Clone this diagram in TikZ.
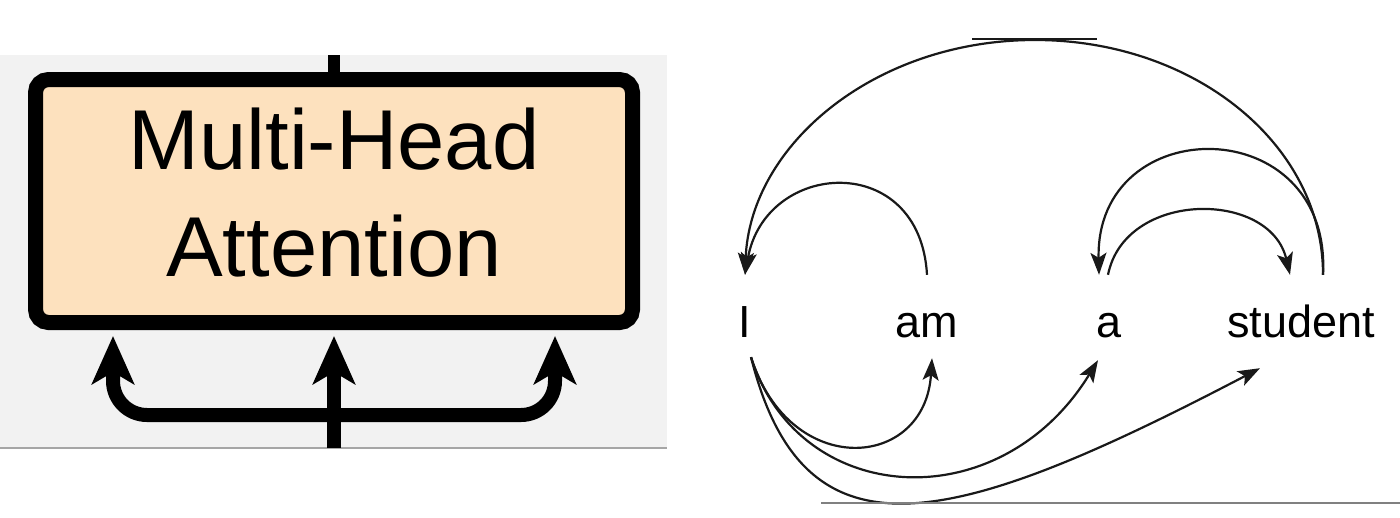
\documentclass[tikz,border=0pt]{standalone}
\usepackage{fontspec}
\setmainfont{Liberation Sans}
\usetikzlibrary{arrows.meta}
\definecolor{peach}{RGB}{253,225,190}
\definecolor{panelgray}{RGB}{242,242,242}
\definecolor{ink}{RGB}{25,25,25}
\begin{document}
\begin{tikzpicture}[x=1pt,y=-1pt,
  mhabox/.style={draw=black, line width=15pt, fill=peach, rounded corners=13pt,
    minimum width=597pt, minimum height=243pt, inner sep=0pt},
  mhatext/.style={font=\fontsize{85}{107}\selectfont, align=center, inner sep=0pt},
  thickflow/.style={line width=14pt, draw=black},
  thickarrow/.style={thickflow, -{Stealth[length=48pt,width=42pt,inset=12pt]}},
  word/.style={font=\fontsize{45}{54}\selectfont, anchor=base, inner xsep=0pt,
    inner ysep=30pt, text height=32pt, text depth=0pt},
  attn/.style={draw=ink, line width=2.2pt, -{Stealth[length=22pt,width=16pt,inset=5pt]}},
  rule/.style={draw=gray, line width=1.5pt}
]
\useasboundingbox (0,0) rectangle (1400,517);

% ---------- left panel ----------
\fill[panelgray] (0,55) rectangle (667,448);
\draw[draw=gray!70, line width=1.5pt] (0,448) -- (667,448);

\node[mhabox] (mha) at (334,201) {};
\node[mhatext] (mhatxt) at (334,193) {Multi-Head\\Attention};

\coordinate (topend) at (334,55);
\coordinate (stembot) at (334,448);
\coordinate (split) at (334,415);

\draw[thickflow, line width=12pt] (mha.north) -- (topend);
\draw[thickarrow] (stembot) -- ([yshift=-6pt]mha.south);
\draw[thickarrow, rounded corners=34pt] (split) -| ([xshift=-221pt,yshift=-6pt]mha.south);
\draw[thickarrow, rounded corners=34pt] (split) -| ([xshift=221pt,yshift=-6pt]mha.south);

% ---------- right panel ----------
\node[word] (wI) at (745,337) {I};
\node[word] (wam) at (927,337) {am};
\node[word] (wa) at (1109,337) {a};
\node[word] (ws) at (1301,337) {student};

\coordinate (Itop) at (wI.north);
\coordinate (Ibot) at ([xshift=6pt,yshift=10pt]wI.south);
\coordinate (amtop) at (wam.north);
\coordinate (ambot) at ([xshift=5pt,yshift=9pt]wam.south);
\coordinate (atopin) at ([xshift=-10pt]wa.north);
\coordinate (atopout) at ([xshift=-1pt]wa.north);
\coordinate (abot) at ([xshift=-11pt,yshift=7pt]wa.south);
\coordinate (stopin) at ([xshift=-11pt]ws.north);
\coordinate (stopout) at ([xshift=22pt]ws.north);
\coordinate (sbot) at ([xshift=-41pt,yshift=-1pt]ws.south);
\coordinate (arcpeak) at (1035,40);

% arcs above the words
\draw[attn] (amtop) .. controls +(-7,-125) and +(20,-115) .. (Itop);
\draw[attn] (stopout) .. controls +(0,-131) and +(159,0) .. (arcpeak)
                      .. controls +(-160,0) and +(5,-130) .. (Itop);
\draw[attn] (stopout) .. controls +(9,-165) and +(-4,-165) .. (atopin);
\draw[attn] (atopout) .. controls +(17,-85) and +(-20,-85) .. (stopin);

% arcs below the words
\draw[attn] (Ibot) .. controls +(39,123) and +(-7,112) .. (ambot);
\draw[attn] (Ibot) .. controls +(48,151) and +(-98,160) .. (abot);
\draw[attn] (Ibot) .. controls +(53,211) and +(-310,162) .. (sbot);

% stray rules of the picture
\draw[draw=ink, line width=2pt] (972,39) -- (1097,39);
\draw[rule] (821,503) -- (1400,503);
\end{tikzpicture}
\end{document}
